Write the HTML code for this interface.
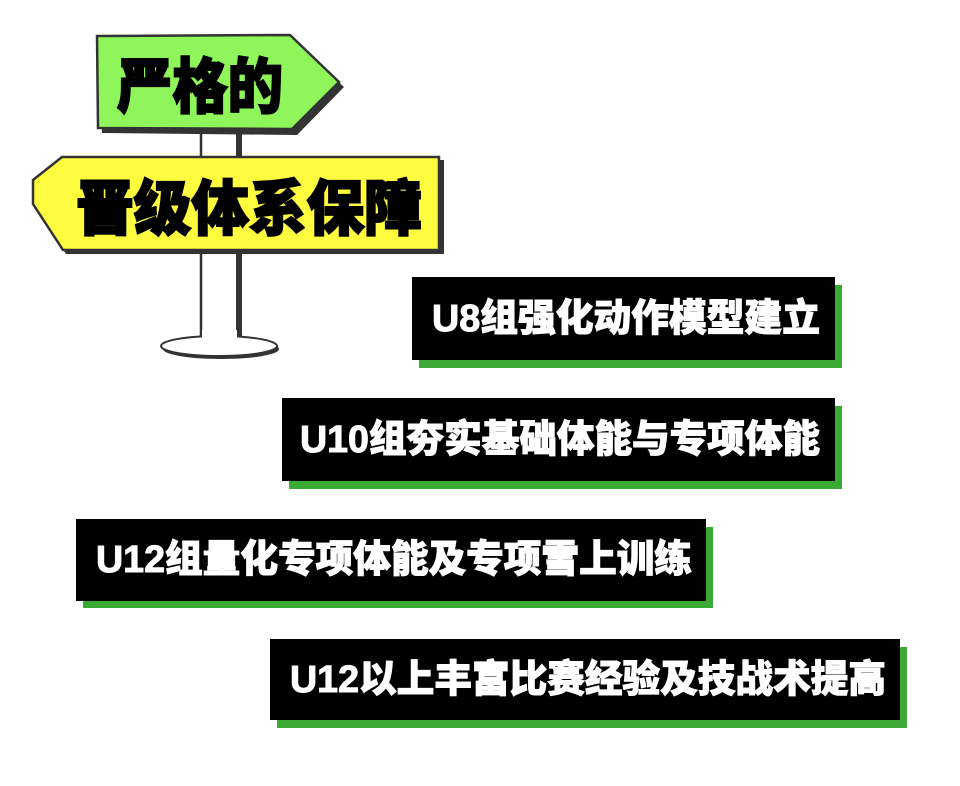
<!DOCTYPE html>
<html><head><meta charset="utf-8"><style>
html,body{margin:0;padding:0;background:#fff;}
svg{display:block}
text{font-family:"Liberation Sans","Noto Sans CJK SC",sans-serif;font-weight:900;}
</style></head><body>
<svg width="960" height="786" viewBox="0 0 960 786" xmlns="http://www.w3.org/2000/svg">
<rect x="201" y="120" width="38" height="220" fill="#fff"/>
<line x1="201" y1="120" x2="201" y2="338" stroke="#333" stroke-width="2.5"/>
<line x1="239" y1="120" x2="239" y2="338" stroke="#333" stroke-width="6"/>
<ellipse cx="221" cy="349" rx="58" ry="10" fill="#333"/>
<ellipse cx="219" cy="346" rx="58" ry="10" fill="#fff" stroke="#333" stroke-width="2"/>
<rect x="202" y="330" width="35" height="10" fill="#fff"/>
<polygon points="100,41 293,39 344,87 297,135 102,133" fill="#333"/>
<polygon points="97,36 290,35 339,82 292,129 98,128" fill="#8ef55a" stroke="#333" stroke-width="2.5"/>
<text x="117" y="108" font-size="60" fill="#000" stroke="#000" stroke-width="2" textLength="166" lengthAdjust="spacingAndGlyphs">严格的</text>
<polygon points="36,184 64,161 444,160 444,254 66,254 36,208" fill="#333"/>
<polygon points="33,180 62,157 439,157 439,250 63,250 33,204" fill="#fffb3f" stroke="#333" stroke-width="2.5"/>
<text x="76" y="230" font-size="60" fill="#000" stroke="#000" stroke-width="2" textLength="346" lengthAdjust="spacingAndGlyphs">晋级体系保障</text>

<rect x="419" y="285" width="423" height="83" fill="#3aaa35"/>
<rect x="412" y="277" width="423" height="83" fill="#000"/>
<text x="432" y="331" font-size="38" fill="#fff" stroke="#fff" stroke-width="1" textLength="388" lengthAdjust="spacingAndGlyphs">U8组强化动作模型建立</text>

<rect x="289" y="406" width="553" height="83" fill="#3aaa35"/>
<rect x="282" y="398" width="553" height="83" fill="#000"/>
<text x="300" y="452" font-size="38" fill="#fff" stroke="#fff" stroke-width="1" textLength="520" lengthAdjust="spacingAndGlyphs">U10组夯实基础体能与专项体能</text>

<rect x="83" y="527" width="630" height="81" fill="#3aaa35"/>
<rect x="76" y="519" width="630" height="82" fill="#000"/>
<text x="96" y="572" font-size="38" fill="#fff" stroke="#fff" stroke-width="1" textLength="596" lengthAdjust="spacingAndGlyphs">U12组量化专项体能及专项雪上训练</text>

<rect x="277" y="647" width="630" height="81" fill="#3aaa35"/>
<rect x="270" y="639" width="630" height="81" fill="#000"/>
<text x="290" y="692" font-size="38" fill="#fff" stroke="#fff" stroke-width="1" textLength="596" lengthAdjust="spacingAndGlyphs">U12以上丰富比赛经验及技战术提高</text>
</svg>
</body></html>
